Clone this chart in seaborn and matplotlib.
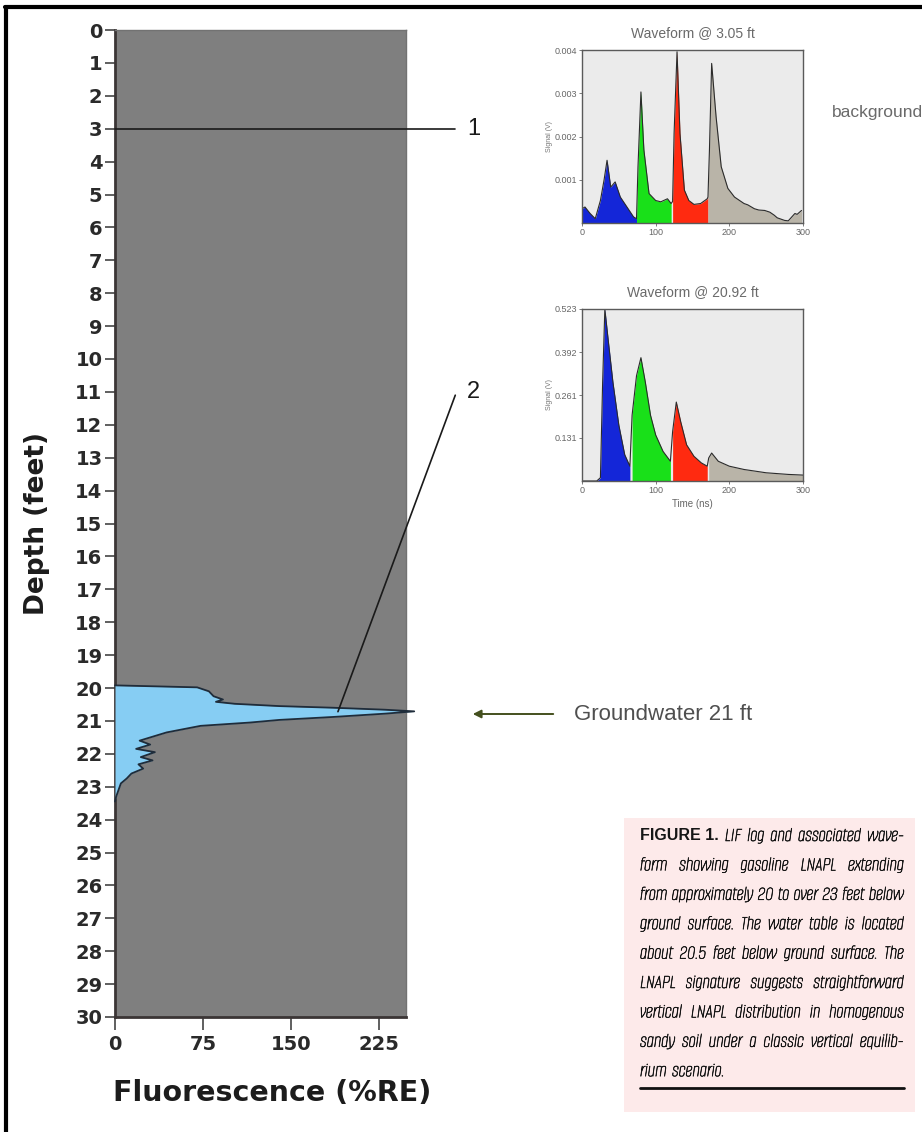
import os
import numpy as np
import matplotlib.pyplot as plt
import matplotlib.patheffects as pe
import seaborn as sns
from matplotlib import font_manager as fm
from matplotlib.lines import Line2D
from matplotlib.patches import Rectangle, FancyArrowPatch

# ---------- LIF log (depth in ft, fluorescence in %RE)
depth = [19.92, 19.98, 20.1, 20.25, 20.35, 20.42, 20.48, 20.55, 20.6, 20.66, 20.71,
         20.78, 20.88, 20.97, 21.05, 21.15, 21.35, 21.6, 21.72, 21.85, 21.95, 22.1,
         22.2, 22.32, 22.45, 22.6, 22.75, 22.9, 23.1, 23.3, 23.45]
fluor = [0, 70, 80, 84, 92, 86, 102, 140, 186, 230, 255,
         230, 186, 140, 115, 73, 44, 21, 30, 18, 34, 22,
         32, 20, 24, 14, 10, 5, 3, 1, 0]
depth_ticks = list(range(0, 31))
fluor_ticks = [0, 75, 150, 225]

# ---------- waveform @ 3.05 ft (background)
wf1_time = [0, 4, 11, 18, 25, 30, 34, 39, 45, 52, 61, 70, 74, 76, 80, 84, 91, 100,
            107, 116, 121, 123, 125, 129, 133, 139, 145, 152, 161, 170, 171, 173,
            176, 182, 189, 198, 207, 220, 225, 234, 240, 248, 255, 261, 265, 275,
            280, 289, 292, 298]
wf1_signal = [0.33, 0.37, 0.22, 0.1, 0.52, 1.0, 1.45, 0.83, 0.95, 0.6, 0.37, 0.14,
              0.1, 1.3, 3.03, 1.69, 0.68, 0.52, 0.49, 0.56, 0.45, 0.5, 2.07, 3.96,
              2.07, 0.76, 0.52, 0.43, 0.45, 0.56, 0.6, 1.69, 3.69, 2.46, 1.3, 0.8,
              0.6, 0.45, 0.42, 0.33, 0.3, 0.29, 0.25, 0.18, 0.12, 0.06, 0.05, 0.22,
              0.2, 0.29]
wf1_ticks = [1, 2, 3, 4]
wf1_ticklabels = ["0.001", "0.002", "0.003", "0.004"]

# ---------- waveform @ 20.92 ft
wf2_time = [0, 20, 25, 28, 31, 36, 42, 50, 58, 65, 68, 74, 80, 86, 93, 100, 110,
            120, 123, 128, 134, 142, 152, 162, 170, 172, 176, 185, 200, 220, 250,
            280, 300]
wf2_signal = [0, 0, 0.01, 0.3, 0.523, 0.42, 0.3, 0.17, 0.08, 0.045, 0.2, 0.32, 0.375,
              0.3, 0.2, 0.14, 0.09, 0.06, 0.15, 0.24, 0.18, 0.11, 0.075, 0.055,
              0.045, 0.07, 0.085, 0.06, 0.045, 0.035, 0.025, 0.02, 0.018]
wf2_ticks = [0.131, 0.261, 0.392, 0.523]
wf2_ticklabels = ["0.131", "0.261", "0.392", "0.523"]

# colour bands of the waveform (ns)
bands = [(0, 74, "#1426d8"), (74, 122, "#19e019"), (122, 171, "#ff2a10"), (171, 300, "#b9b4a8")]
bands2 = [(0, 66, "#1426d8"), (66, 121, "#19e019"), (121, 171, "#ff2a10"), (171, 300, "#b9b4a8")]

caption_lines = [
    "LIF log and associated wave-",
    "form showing gasoline LNAPL extending",
    "from approximately 20 to over 23 feet below",
    "ground surface. The water table is located",
    "about 20.5 feet below ground surface. The",
    "LNAPL signature suggests straightforward",
    "vertical LNAPL distribution in homogenous",
    "sandy soil under a classic vertical equilib-",
    "rium scenario.",
]

sns.set_theme(style="white")
plt.rcParams['font.family'] = ['DejaVu Sans']

W, H = 922, 1132
fig = plt.figure(figsize=(W / 100, H / 100), dpi=100)
fig.patch.set_facecolor("white")


def fx(x):
    return x / W


def fy(y):
    return 1 - y / H


#------------- main LIF log
ax = fig.add_axes([fx(115), fy(1017), fx(406) - fx(115), fy(30) - fy(1017)])
ax.set_facecolor("#7f7f7f")
ax.fill_betweenx(depth, 0, fluor, color="#86cdf3", lw=0, clip_on=False, zorder=3)
sns.lineplot(x=fluor, y=depth, sort=False, estimator=None, ax=ax,
             color="#1f2c3a", lw=1.3, zorder=4, clip_on=False)
ax.set_xlim(0, 248)
ax.set_ylim(30, 0)
ax.set_yticks(depth_ticks)
ax.set_xticks(fluor_ticks)
ax.tick_params(axis="both", which="both", width=1.2, color="#444444",
               labelsize=14, labelcolor="#2a2a2a", left=True, bottom=True)
ax.tick_params(axis="y", length=7, pad=2)
ax.tick_params(axis="x", length=9, pad=4)
for lab in ax.get_yticklabels() + ax.get_xticklabels():
    lab.set_fontweight("bold")
for side in ["left", "bottom"]:
    ax.spines[side].set_color("#3b3535")
    ax.spines[side].set_linewidth(2)
for side in ["top", "right"]:
    ax.spines[side].set_color("#727272")
    ax.spines[side].set_linewidth(1)
ax.set_ylabel("Depth (feet)", fontsize=19, fontweight="bold", color="#1c1c1c")
ax.yaxis.set_label_coords(-0.225, 0.5)
ax.set_xlabel("Fluorescence (%RE)", fontsize=20.5, fontweight="bold", color="#1c1c1c")
ax.xaxis.label.set_va("center")
ax.xaxis.label.set_ha("left")
ax.xaxis.set_label_coords(-0.007, -0.077)

# markers 1 and 2
ax.plot([0, 290], [3.0, 3.0], color="#1a1a1a", lw=1.2, clip_on=False, zorder=5)
ax.plot([190, 290], [20.72, 11.1], color="#1a1a1a", lw=1.2, clip_on=False, zorder=5)
ax.text(300, 3.0, "1", fontsize=17, ha="left", va="center", color="#1a1a1a",
        family="Liberation Sans")
ax.text(300, 11.0, "2", fontsize=17, ha="left", va="center", color="#1a1a1a",
        family="Liberation Sans")


#------------- waveform insets
def draw_waveform(rect, t, s, bnds, ylim, ticks, ticklabels, title, xlabel):
    a = fig.add_axes(rect)
    a.set_facecolor("#ebebeb")
    t = np.array(t)
    s = np.array(s)
    for lo, hi, c in bnds:
        m = (t >= lo) & (t <= hi)
        a.fill_between(t[m], 0, s[m], color=c, lw=0)
    sns.lineplot(x=t, y=s, sort=False, estimator=None, ax=a, color="#2b2b2b", lw=0.8)
    a.set_xlim(0, 300)
    a.set_ylim(*ylim)
    a.set_xticks([0, 100, 200, 300])
    a.set_yticks(ticks)
    a.set_yticklabels(ticklabels)
    a.tick_params(length=2, width=0.6, labelsize=6.5, labelcolor="#666666", pad=1.5,
                  left=True, bottom=True, color="#666666")
    for lab in a.get_xticklabels() + a.get_yticklabels():
        lab.set_family("Liberation Sans")
    for sp in a.spines.values():
        sp.set_color("#5a5a5a")
        sp.set_linewidth(1)
    a.set_title(title, fontsize=10, color="#6a6a6a", pad=9, family="Liberation Sans")
    a.set_ylabel("Signal (V)", fontsize=5, color="#777777", labelpad=1,
                 family="Liberation Sans")
    a.set_xlabel(xlabel, fontsize=7, color="#666666", labelpad=3, family="Liberation Sans")
    return a


draw_waveform([fx(582), fy(223), fx(803) - fx(582), fy(50) - fy(223)],
              wf1_time, wf1_signal, bands, (0, 4), wf1_ticks, wf1_ticklabels,
              "Waveform @ 3.05 ft", "")
draw_waveform([fx(582), fy(481), fx(803) - fx(582), fy(309) - fy(481)],
              wf2_time, wf2_signal, bands2, (0, 0.523), wf2_ticks, wf2_ticklabels,
              "Waveform @ 20.92 ft", "Time (ns)")
fig.text(fx(832), fy(112), "background", fontsize=12.5, color="#6a6a6a", va="center",
         family="Liberation Sans")

#------------- groundwater arrow
fig.add_artist(FancyArrowPatch((fx(556), fy(714)), (fx(470), fy(714)),
                               transform=fig.transFigure, arrowstyle="-|>",
                               mutation_scale=12, color="#44501e", lw=1.4))
fig.text(fx(574), fy(714), "Groundwater 21 ft", fontsize=16, color="#4f4f4f",
         va="center", ha="left", family="Liberation Sans")

#------------- caption box
fig.add_artist(Rectangle((fx(624), fy(1112)), fx(915) - fx(624), fy(818) - fy(1112),
                         transform=fig.transFigure, facecolor="#fdeaea", edgecolor="none",
                         zorder=0))

fig.canvas.draw()
renderer = fig.canvas.get_renderer()
left, right = 640, 904
col = right - left - 3


def widest_line(prop):
    w = 0
    for line in caption_lines:
        tt = fig.text(0, 0, line, fontproperties=prop)
        w = max(w, tt.get_window_extent(renderer).width)
        tt.remove()
    return w


# pick the italic face whose fitting size is closest to the 15 pt of the print
cands = [fm.FontProperties(family="Liberation Sans", style="italic", size=15)]
for f in fm.fontManager.ttflist:
    base = os.path.basename(f.fname).lower()
    if f.style not in ("italic", "oblique"):
        continue
    if any(k in base for k in ("bold", "black", "thin", "light", "medium", "heavy",
                               "mono", "display", "serif", "semi")):
        continue
    cands.append(fm.FontProperties(fname=f.fname, size=15))

best = None
for p in cands:
    try:
        wd = widest_line(p)
    except Exception:
        continue
    fit = min(15.5, 15 * col / wd)
    score = abs(fit - 15)
    if best is None or score < best[0]:
        best = (score, p, fit)
cap_prop, cap_size = best[1], best[2]
cap_prop.set_size(cap_size)
while widest_line(cap_prop) > col and cap_size > 6:
    cap_size -= 0.25
    cap_prop.set_size(cap_size)

# the print face is a regular weight: thicken the strokes a little
cap_effect = [pe.withStroke(linewidth=0.4, foreground="#161616")]

line_y = [836 + 29.4 * i for i in range(len(caption_lines))]
for i, line in enumerate(caption_lines):
    texts = []
    if i == 0:
        texts.append(fig.text(fx(left), fy(line_y[i]), "FIGURE 1.", va="center", ha="left",
                              color="#161616", fontweight="bold", family="Liberation Sans",
                              fontsize=11.5))
    for w in line.split(" "):
        texts.append(fig.text(fx(left), fy(line_y[i]), w, va="center", ha="left",
                              color="#161616", fontproperties=cap_prop,
                              path_effects=cap_effect))
    widths = [t.get_window_extent(renderer).width for t in texts]
    if i < len(caption_lines) - 1 and len(texts) > 1:
        gap = (right - left - sum(widths)) / (len(texts) - 1)
    else:
        gap = cap_size * 100 / 72 * 0.26
    x = left
    for t, wd in zip(texts, widths):
        t.set_x(fx(x))
        x += wd + gap

fig.add_artist(Line2D([fx(640), fx(904)], [fy(1088), fy(1088)], transform=fig.transFigure,
                      color="#111111", lw=2))

#------------- outer frame
fig.add_artist(Line2D([fx(5), fx(922)], [fy(7), fy(7)], transform=fig.transFigure,
                      color="black", lw=3))
fig.add_artist(Line2D([fx(6), fx(6)], [fy(7), fy(1132)], transform=fig.transFigure,
                      color="black", lw=3))

fig.savefig("out.png", dpi=100)
